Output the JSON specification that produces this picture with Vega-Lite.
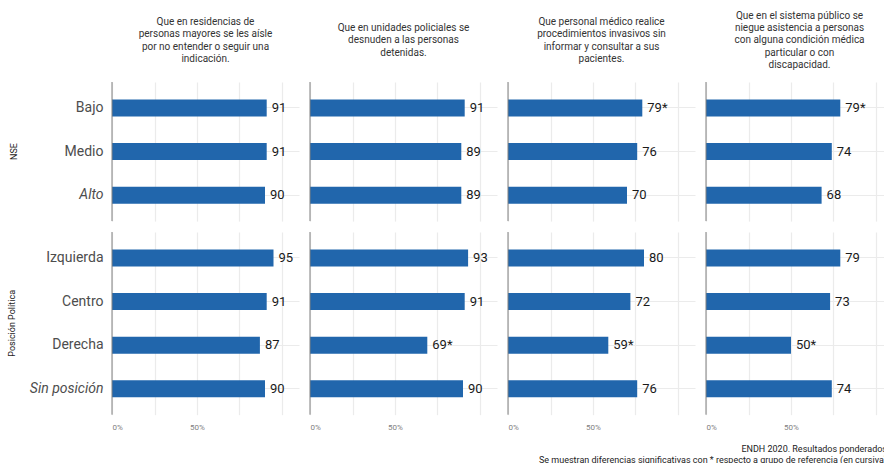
{
  "$schema": "https://vega.github.io/schema/vega-lite/v6.json",
  "background": "white",
  "padding": {"left": 8, "top": 10, "right": 0, "bottom": 2},
  "config": {
    "font": "Roboto",
    "view": {"stroke": null},
    "axis": {"gridColor": "#ebebeb", "gridWidth": 1.2}
  },
  "data": {
    "values": [
      {"grupo": "NSE", "categoria": "Bajo", "pregunta": "Que en residencias de|personas mayores se les aísle|por no entender o seguir una|indicación.", "valor": 91, "etiqueta": "91"},
      {"grupo": "NSE", "categoria": "Medio", "pregunta": "Que en residencias de|personas mayores se les aísle|por no entender o seguir una|indicación.", "valor": 91, "etiqueta": "91"},
      {"grupo": "NSE", "categoria": "Alto", "pregunta": "Que en residencias de|personas mayores se les aísle|por no entender o seguir una|indicación.", "valor": 90, "etiqueta": "90"},
      {"grupo": "Posición Política", "categoria": "Izquierda", "pregunta": "Que en residencias de|personas mayores se les aísle|por no entender o seguir una|indicación.", "valor": 95, "etiqueta": "95"},
      {"grupo": "Posición Política", "categoria": "Centro", "pregunta": "Que en residencias de|personas mayores se les aísle|por no entender o seguir una|indicación.", "valor": 91, "etiqueta": "91"},
      {"grupo": "Posición Política", "categoria": "Derecha", "pregunta": "Que en residencias de|personas mayores se les aísle|por no entender o seguir una|indicación.", "valor": 87, "etiqueta": "87"},
      {"grupo": "Posición Política", "categoria": "Sin posición", "pregunta": "Que en residencias de|personas mayores se les aísle|por no entender o seguir una|indicación.", "valor": 90, "etiqueta": "90"},

      {"grupo": "NSE", "categoria": "Bajo", "pregunta": "Que en unidades policiales se|desnuden a las personas|detenidas.", "valor": 91, "etiqueta": "91"},
      {"grupo": "NSE", "categoria": "Medio", "pregunta": "Que en unidades policiales se|desnuden a las personas|detenidas.", "valor": 89, "etiqueta": "89"},
      {"grupo": "NSE", "categoria": "Alto", "pregunta": "Que en unidades policiales se|desnuden a las personas|detenidas.", "valor": 89, "etiqueta": "89"},
      {"grupo": "Posición Política", "categoria": "Izquierda", "pregunta": "Que en unidades policiales se|desnuden a las personas|detenidas.", "valor": 93, "etiqueta": "93"},
      {"grupo": "Posición Política", "categoria": "Centro", "pregunta": "Que en unidades policiales se|desnuden a las personas|detenidas.", "valor": 91, "etiqueta": "91"},
      {"grupo": "Posición Política", "categoria": "Derecha", "pregunta": "Que en unidades policiales se|desnuden a las personas|detenidas.", "valor": 69, "etiqueta": "69*"},
      {"grupo": "Posición Política", "categoria": "Sin posición", "pregunta": "Que en unidades policiales se|desnuden a las personas|detenidas.", "valor": 90, "etiqueta": "90"},

      {"grupo": "NSE", "categoria": "Bajo", "pregunta": "Que personal médico realice|procedimientos invasivos sin|informar y consultar a sus|pacientes.", "valor": 79, "etiqueta": "79*"},
      {"grupo": "NSE", "categoria": "Medio", "pregunta": "Que personal médico realice|procedimientos invasivos sin|informar y consultar a sus|pacientes.", "valor": 76, "etiqueta": "76"},
      {"grupo": "NSE", "categoria": "Alto", "pregunta": "Que personal médico realice|procedimientos invasivos sin|informar y consultar a sus|pacientes.", "valor": 70, "etiqueta": "70"},
      {"grupo": "Posición Política", "categoria": "Izquierda", "pregunta": "Que personal médico realice|procedimientos invasivos sin|informar y consultar a sus|pacientes.", "valor": 80, "etiqueta": "80"},
      {"grupo": "Posición Política", "categoria": "Centro", "pregunta": "Que personal médico realice|procedimientos invasivos sin|informar y consultar a sus|pacientes.", "valor": 72, "etiqueta": "72"},
      {"grupo": "Posición Política", "categoria": "Derecha", "pregunta": "Que personal médico realice|procedimientos invasivos sin|informar y consultar a sus|pacientes.", "valor": 59, "etiqueta": "59*"},
      {"grupo": "Posición Política", "categoria": "Sin posición", "pregunta": "Que personal médico realice|procedimientos invasivos sin|informar y consultar a sus|pacientes.", "valor": 76, "etiqueta": "76"},

      {"grupo": "NSE", "categoria": "Bajo", "pregunta": "Que en el sistema público se|niegue asistencia a personas|con alguna condición médica|particular o con|discapacidad.", "valor": 79, "etiqueta": "79*"},
      {"grupo": "NSE", "categoria": "Medio", "pregunta": "Que en el sistema público se|niegue asistencia a personas|con alguna condición médica|particular o con|discapacidad.", "valor": 74, "etiqueta": "74"},
      {"grupo": "NSE", "categoria": "Alto", "pregunta": "Que en el sistema público se|niegue asistencia a personas|con alguna condición médica|particular o con|discapacidad.", "valor": 68, "etiqueta": "68"},
      {"grupo": "Posición Política", "categoria": "Izquierda", "pregunta": "Que en el sistema público se|niegue asistencia a personas|con alguna condición médica|particular o con|discapacidad.", "valor": 79, "etiqueta": "79"},
      {"grupo": "Posición Política", "categoria": "Centro", "pregunta": "Que en el sistema público se|niegue asistencia a personas|con alguna condición médica|particular o con|discapacidad.", "valor": 73, "etiqueta": "73"},
      {"grupo": "Posición Política", "categoria": "Derecha", "pregunta": "Que en el sistema público se|niegue asistencia a personas|con alguna condición médica|particular o con|discapacidad.", "valor": 50, "etiqueta": "50*"},
      {"grupo": "Posición Política", "categoria": "Sin posición", "pregunta": "Que en el sistema público se|niegue asistencia a personas|con alguna condición médica|particular o con|discapacidad.", "valor": 74, "etiqueta": "74"}
    ]
  },
  "title": {
    "text": ["ENDH 2020. Resultados ponderados", "Se muestran diferencias significativas con * respecto a grupo de referencia (en cursiva)"],
    "orient": "bottom",
    "anchor": "end",
    "fontSize": 9,
    "fontWeight": "normal",
    "color": "#222222",
    "offset": 14,
    "dx": -6,
    "lineHeight": 10.5
  },
  "spacing": 9,
  "vconcat": [
    {
      "transform": [{"filter": "datum.grupo == 'NSE'"}],
      "facet": {
        "row": {"field": "grupo", "type": "nominal", "title": null,
          "header": {"labelAngle": -90, "labelOrient": "left", "labelFontSize": 9, "labelColor": "#222222", "labelPadding": 8}},
        "column": {"field": "pregunta", "type": "nominal", "title": null,
          "sort": ["Que en residencias de|personas mayores se les aísle|por no entender o seguir una|indicación.", "Que en unidades policiales se|desnuden a las personas|detenidas.", "Que personal médico realice|procedimientos invasivos sin|informar y consultar a sus|pacientes.", "Que en el sistema público se|niegue asistencia a personas|con alguna condición médica|particular o con|discapacidad."],
          "header": {"labelExpr": "split(slice('\u2800|\u2800|\u2800|\u2800|', 0, 2 * (5 - length(split(datum.value, '|')))) + join(split(datum.value, '|'), '|\u2800|') + slice('|\u2800|\u2800|\u2800|\u2800', 0, 2 * (5 - length(split(datum.value, '|')))), '|')", "labelFontSize": 10, "labelColor": "#333333", "labelLineHeight": 6.15, "labelPadding": 11}}
      },
      "spacing": {"row": 0, "column": 10},
      "spec": {
        "width": 187,
        "height": {"step": 43.6},
        "layer": [
          {
            "mark": {"type": "bar", "color": "#2166ac"},
            "encoding": {
              "x": {"field": "valor", "type": "quantitative", "title": null, "scale": {"domain": [0, 110], "nice": false},
                "axis": {"values": [0, 25, 50, 75, 100], "labels": false, "ticks": false, "domain": false, "grid": true}},
              "y": {"field": "categoria", "type": "nominal", "title": null, "sort": ["Bajo", "Medio", "Alto"],
                "scale": {"paddingInner": 0.61, "paddingOuter": 0.4},
                "axis": {"ticks": false, "domain": false, "grid": true, "bandPosition": 0.5, "labelFontSize": 14, "labelColor": "#4d4d4d", "labelPadding": 8, "minExtent": 80, "maxExtent": 80,
                  "labelFontStyle": {"condition": {"test": "datum.value == 'Alto' || datum.value == 'Sin posición'", "value": "italic"}, "value": "normal"}}}
            }
          },
          {
            "mark": {"type": "text", "align": "left", "baseline": "middle", "dx": 5, "fontSize": 13, "color": "#1a1a1a"},
            "encoding": {
              "x": {"field": "valor", "type": "quantitative"},
              "y": {"field": "categoria", "type": "nominal", "sort": ["Bajo", "Medio", "Alto"]},
              "text": {"field": "etiqueta", "type": "nominal"}
            }
          },
          {
            "transform": [{"aggregate": [{"op": "count", "as": "n"}], "groupby": ["grupo", "pregunta"]}],
            "mark": {"type": "rule", "color": "#808080", "strokeWidth": 1},
            "encoding": {"x": {"datum": 0}}
          }
        ]
      }
    },
    {
      "transform": [{"filter": "datum.grupo == 'Posición Política'"}],
      "facet": {
        "row": {"field": "grupo", "type": "nominal", "title": null,
          "header": {"labelAngle": -90, "labelOrient": "left", "labelFontSize": 9, "labelColor": "#222222", "labelPadding": 8}},
        "column": {"field": "pregunta", "type": "nominal", "title": null,
          "sort": ["Que en residencias de|personas mayores se les aísle|por no entender o seguir una|indicación.", "Que en unidades policiales se|desnuden a las personas|detenidas.", "Que personal médico realice|procedimientos invasivos sin|informar y consultar a sus|pacientes.", "Que en el sistema público se|niegue asistencia a personas|con alguna condición médica|particular o con|discapacidad."],
          "header": {"labels": false, "title": null}}
      },
      "spacing": {"row": 0, "column": 10},
      "spec": {
        "width": 187,
        "height": {"step": 43.6},
        "layer": [
          {
            "mark": {"type": "bar", "color": "#2166ac"},
            "encoding": {
              "x": {"field": "valor", "type": "quantitative", "title": null, "scale": {"domain": [0, 110], "nice": false},
                "axis": {"values": [0, 25, 50, 75, 100], "labelExpr": "datum.value == 0 || datum.value == 50 ? datum.value + '%' : ''", "ticks": false, "domain": false, "grid": true, "labelFontSize": 8, "labelColor": "#7f7f7f", "labelPadding": 7}},
              "y": {"field": "categoria", "type": "nominal", "title": null, "sort": ["Izquierda", "Centro", "Derecha", "Sin posición"],
                "scale": {"paddingInner": 0.61, "paddingOuter": 0.4},
                "axis": {"ticks": false, "domain": false, "grid": true, "bandPosition": 0.5, "labelFontSize": 14, "labelColor": "#4d4d4d", "labelPadding": 8, "minExtent": 80, "maxExtent": 80,
                  "labelFontStyle": {"condition": {"test": "datum.value == 'Alto' || datum.value == 'Sin posición'", "value": "italic"}, "value": "normal"}}}
            }
          },
          {
            "mark": {"type": "text", "align": "left", "baseline": "middle", "dx": 5, "fontSize": 13, "color": "#1a1a1a"},
            "encoding": {
              "x": {"field": "valor", "type": "quantitative"},
              "y": {"field": "categoria", "type": "nominal", "sort": ["Izquierda", "Centro", "Derecha", "Sin posición"]},
              "text": {"field": "etiqueta", "type": "nominal"}
            }
          },
          {
            "transform": [{"aggregate": [{"op": "count", "as": "n"}], "groupby": ["grupo", "pregunta"]}],
            "mark": {"type": "rule", "color": "#808080", "strokeWidth": 1},
            "encoding": {"x": {"datum": 0}}
          }
        ]
      }
    }
  ]
}
